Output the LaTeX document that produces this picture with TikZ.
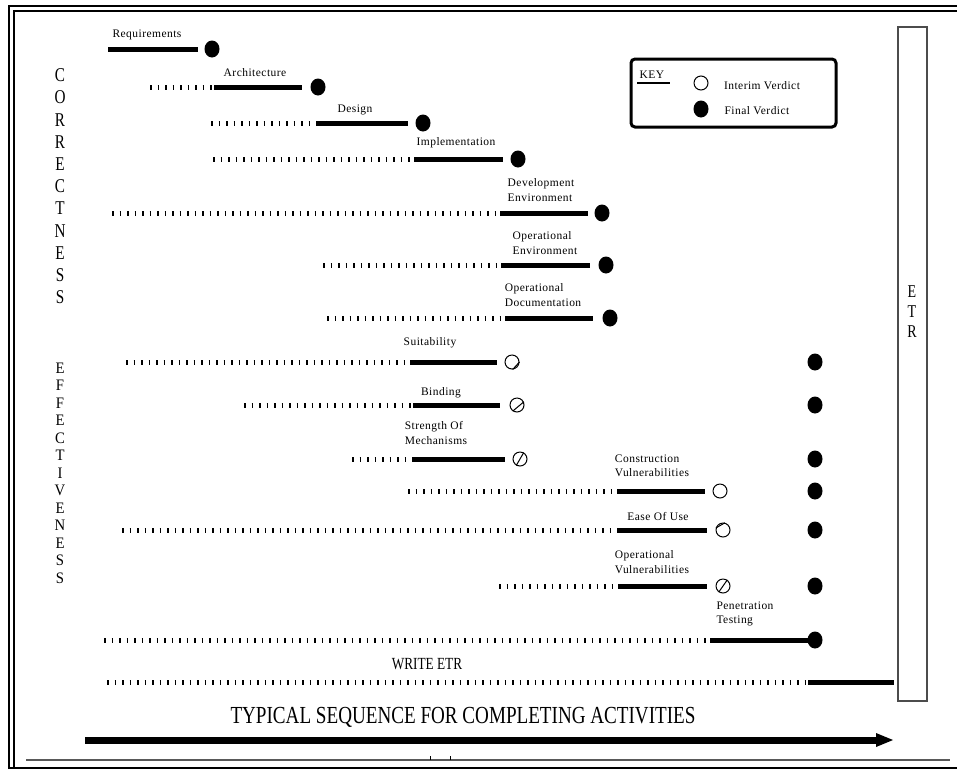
\documentclass[tikz,border=0pt]{standalone}
\usepackage{fontspec}
\setmainfont{Liberation Serif}
\newfontfamily\lblfamily[LetterSpace=4]{Liberation Serif}
\newfontfamily\condfam[FakeStretch=0.78]{Liberation Serif}
\newfontfamily\effam[FakeStretch=0.92]{Liberation Serif}
\newcommand\lblf{\lblfamily\fontsize{11.5}{14.5}\selectfont}
\usetikzlibrary{shapes.geometric}
\tikzset{
  bar/.style={line width=5pt},
  tickline/.style={line width=5pt, dash pattern=on 1.7pt off 5.8pt},
  fin/.style={ellipse, fill=black, minimum width=15pt, minimum height=17pt, inner sep=0pt},
  interim/.style={circle, draw, line width=1pt, minimum size=14pt, inner sep=0pt},
  lbl/.style={font=\lblf, align=left, inner sep=0pt},
  vword/.style={inner sep=0pt, align=center, anchor=north},
  frame/.style={line width=2pt},
}
\begin{document}
\begin{tikzpicture}[x=1pt,y=-1pt]
\useasboundingbox (0,0) rectangle (957,769);
% frame
\draw[frame] (8.5,769) -- (8.5,5.5) -- (957,5.5);
\draw[frame] (13.5,767) -- (13.5,10.5) -- (957,10.5);
\draw[frame] (8,768) -- (957,768);
\draw[line width=1.5pt, black!65] (26,760) -- (950,760);
\draw[line width=1pt] (430,760) -- (430,756);
\draw[line width=1pt] (450,760) -- (450,756);
% ETR box
\node[draw=black!70, line width=1.3pt, minimum width=29pt, minimum height=674pt, inner sep=0pt] (etrbox) at (912.5,364) {};
\node[vword, font=\condfam\fontsize{18}{20}\selectfont] (etrword) at (912,286) {E\\T\\R};
% vertical words
\node[vword, font=\condfam\fontsize{19.5}{22.2}\selectfont] (corword) at (60,68.5) {C\\O\\R\\R\\E\\C\\T\\N\\E\\S\\S};
\node[vword, font=\effam\fontsize{16}{17.5}\selectfont] (effword) at (60,362.5) {E\\F\\F\\E\\C\\T\\I\\V\\E\\N\\E\\S\\S};
% key
\node[draw, line width=3pt, rounded corners=4pt, minimum width=205pt, minimum height=68pt, inner sep=0pt] (key) at (733.5,93) {};
\node[font=\lblf, inner sep=0pt] (keyt) at (652,75) {KEY};
\draw[line width=1.5pt] (637,83) -- (670,83);
\node[interim] (keyi) at (701,83) {};
\node[lbl] (keyit) at (762,86) {Interim Verdict};
\node[fin] (keyf) at (701,109) {};
\node[lbl] (keyft) at (757,111) {Final Verdict};
% rows: name / y / dotted start / bar start / bar end / marker x
\foreach \n/\y/\ds/\bs/\be/\mx in {
  arch/87/150/214/302/318,
  des/123/211/318/408/423,
  imp/159/213/414/503/518,
  dev/213/112/500/588/602,
  openv/265/323/501/590/606,
  opdoc/318/327/505/593/610}{
  \coordinate (\n d) at (\ds,\y);
  \coordinate (\n s) at (\bs,\y);
  \coordinate (\n e) at (\be,\y);
  \node[fin] (\n m) at (\mx,\y) {};
  \draw[tickline] (\n d) -- (\n s);
  \draw[bar] (\n s) -- (\n e);
}
\coordinate (reqs) at (108,49);
\coordinate (reqe) at (198,49);
\node[fin] (reqm) at (212,49) {};
\draw[bar] (reqs) -- (reqe);
% effectiveness rows with interim verdicts
\foreach \n/\y/\ds/\bs/\be/\mx in {
  suit/362/126/410/497/512,
  bind/405/244/413/500/517,
  som/459/352/414/505/520,
  cons/491/408/617/705/720,
  ease/530/122/617/707/723,
  opv/586/499/618/707/723}{
  \coordinate (\n d) at (\ds,\y);
  \coordinate (\n s) at (\bs,\y);
  \coordinate (\n e) at (\be,\y);
  \node[interim] (\n m) at (\mx,\y) {};
  \node[fin] (\n f) at (815,\y) {};
  \draw[tickline] (\n d) -- (\n s);
  \draw[bar] (\n s) -- (\n e);
}
\draw[line width=1pt] (suitm.0) -- (suitm.-85);
\draw[line width=1pt] (bindm.-125) -- (bindm.25);
\draw[line width=1pt] (somm.-120) -- (somm.60);
\draw[line width=1pt] (easem.165) -- (easem.75);
\draw[line width=1pt] (opvm.-125) -- (opvm.55);
% penetration testing
\coordinate (pend) at (104,640);
\coordinate (pens) at (710,640);
\node[fin] (penm) at (815,640) {};
\draw[tickline] (pend) -- (pens);
\draw[bar] (pens) -- (penm.center);
% write ETR
\coordinate (wrd) at (107,682);
\coordinate (wrs) at (808,682);
\coordinate (wre) at (894,682);
\draw[tickline] (wrd) -- (wrs);
\draw[bar] (wrs) -- (wre);
% labels
\node[lbl] (lreq) at (147,35) {Requirements};
\node[lbl] (larch) at (255,73) {Architecture};
\node[lbl] (ldes) at (355,110) {Design};
\node[lbl] (limp) at (456,143) {Implementation};
\node[lbl] (ldev) at (541,190) {Development\\Environment};
\node[lbl] (lopenv) at (545,243) {Operational\\Environment};
\node[lbl] (lopdoc) at (543,295) {Operational\\Documentation};
\node[lbl] (lsuit) at (430,343) {Suitability};
\node[lbl] (lbind) at (441,393) {Binding};
\node[lbl] (lsom) at (436,433) {Strength Of\\Mechanisms};
\node[lbl] (lcons) at (652,466) {Construction\\Vulnerabilities};
\node[lbl] (lease) at (658,516) {Ease Of Use};
\node[lbl] (lopv) at (652,562) {Operational\\Vulnerabilities};
\node[lbl] (lpen) at (745,614) {Penetration\\Testing};
\node[font=\condfam\fontsize{17}{19}\selectfont, inner sep=0pt] (lwr) at (427,664) {WRITE ETR};
% bottom arrow
\node[font=\condfam\fontsize{24.5}{26}\selectfont, inner sep=0pt] (seq) at (463,717) {TYPICAL SEQUENCE FOR COMPLETING ACTIVITIES};
\coordinate (arrs) at (85,740);
\coordinate (arre) at (876,740);
\coordinate (arrt) at (893,740);
\draw[line width=7pt] (arrs) -- (arre);
\fill (arre) ++(0,-7) -- (arrt) -- ++(-17,7) -- cycle;
\end{tikzpicture}
\end{document}
